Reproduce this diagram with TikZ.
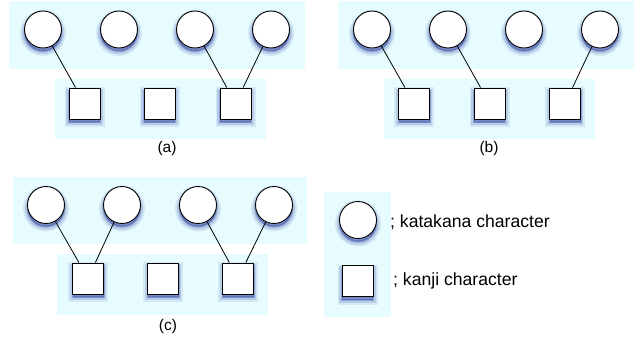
\documentclass[tikz,border=0pt]{standalone}
\usepackage{fontspec}
\setmainfont{Liberation Sans}
\definecolor{bandc}{RGB}{230,252,255}
\definecolor{shc}{RGB}{55,75,165}
\tikzset{
  softshadow/.style={
    preaction={fill=shc, draw=shc, line width=9pt, opacity=0.1, transform canvas={yshift=-3.5pt}},
    preaction={fill=shc, draw=shc, line width=5.5pt, opacity=0.18, transform canvas={yshift=-3.5pt}},
    preaction={fill=shc, draw=shc, line width=2pt, opacity=0.32, transform canvas={yshift=-3pt}},
  },
  kata/.style={circle, draw=black, fill=white, line width=0.9pt, inner sep=0pt,
    minimum size=37pt, softshadow},
  kanji/.style={rectangle, draw=black, fill=white, line width=0.9pt, inner sep=0pt,
    minimum size=31pt, softshadow},
  band/.style={fill=bandc, draw=none},
  link/.style={draw=black, line width=0.8pt},
  caption/.style={font=\fontsize{15.5}{18}\selectfont, inner sep=0pt},
  legendtext/.style={font=\fontsize{17.6}{20}\selectfont, inner sep=0pt, anchor=west},
}
\begin{document}
\begin{tikzpicture}[x=1pt, y=-1pt]
\useasboundingbox (0,0) rectangle (636,342);

% background bands
\fill[band] (9,1) rectangle (305,69);
\fill[band] (55,79) rectangle (266,139);
\fill[band] (338,1) rectangle (634,69);
\fill[band] (384,79) rectangle (595,139);
\fill[band] (13,177) rectangle (307,244);
\fill[band] (57,254) rectangle (268,315);
\fill[band] (324,192) rectangle (391,317);

% (a)
\node[kata] (a1) at (43,29.5) {};
\node[kata] (a2) at (119,29.5) {};
\node[kata] (a3) at (195,29.5) {};
\node[kata] (a4) at (271,29.5) {};
\node[kanji] (as1) at (84.5,103.5) {};
\node[kanji] (as2) at (159.5,103.5) {};
\node[kanji] (as3) at (235.5,103.5) {};
\draw[link] (a1) -- (as1);
\draw[link] (a3) -- (as3);
\draw[link] (a4) -- (as3);
\node[caption] (la) at (167,148) {(a)};

% (b)
\node[kata] (b1) at (372,29.5) {};
\node[kata] (b2) at (448,29.5) {};
\node[kata] (b3) at (524,29.5) {};
\node[kata] (b4) at (600,29.5) {};
\node[kanji] (bs1) at (414,103.5) {};
\node[kanji] (bs2) at (489.5,103.5) {};
\node[kanji] (bs3) at (565,103.5) {};
\draw[link] (b1) -- (bs1);
\draw[link] (b2) -- (bs2);
\draw[link] (b4) -- (bs3);
\node[caption] (lb) at (489,148) {(b)};

% (c)
\node[kata] (c1) at (46,205) {};
\node[kata] (c2) at (122,205) {};
\node[kata] (c3) at (198,205) {};
\node[kata] (c4) at (274,205) {};
\node[kanji] (cs1) at (88,278.5) {};
\node[kanji] (cs2) at (163,278.5) {};
\node[kanji] (cs3) at (238,278.5) {};
\draw[link] (c1) -- (cs1);
\draw[link] (c2) -- (cs1);
\draw[link] (c3) -- (cs3);
\draw[link] (c4) -- (cs3);
\node[caption] (lc) at (168,326) {(c)};

% legend
\node[kata] (lk) at (358,220) {};
\node[kanji] (lj) at (357.5,281) {};
\node[legendtext] (tk) at (390,222) {; katakana character};
\node[legendtext] (tj) at (393,281) {; kanji character};
\end{tikzpicture}
\end{document}
